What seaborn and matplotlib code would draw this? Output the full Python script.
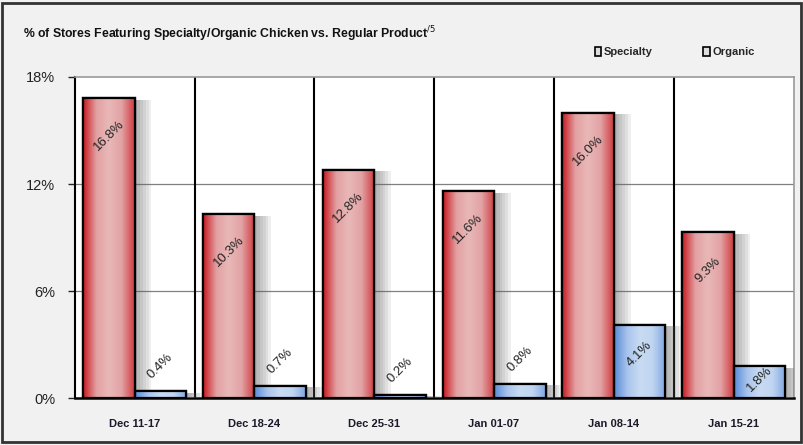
import numpy as np
import pandas as pd
import matplotlib
matplotlib.use("Agg")
import matplotlib.pyplot as plt
import matplotlib.patheffects as pe
from matplotlib.colors import LinearSegmentedColormap
from matplotlib.patches import Rectangle
import seaborn as sns

weeks = ["Dec 11-17", "Dec 18-24", "Dec 25-31", "Jan 01-07", "Jan 08-14", "Jan 15-21"]
specialty = [16.8, 10.3, 12.8, 11.6, 16.0, 9.3]
organic = [0.4, 0.7, 0.2, 0.8, 4.1, 1.8]
series = ["Specialty", "Organic"]
yticks = [0, 6, 12, 18]


def build_frame():
    df = pd.DataFrame({
        "week": weeks * 2,
        "value": specialty + organic,
        "type": [series[0]] * len(weeks) + [series[1]] * len(weeks),
    })
    return df


def fill_gradient(ax, bar, cmap):
    x, y = bar.get_x(), bar.get_y()
    w, h = bar.get_width(), bar.get_height()
    grad = np.linspace(0, 1, 64).reshape(1, -1)
    im = ax.imshow(grad, cmap=cmap, aspect="auto", extent=(x, x + w, y, y + h),
                   zorder=bar.get_zorder() + 0.1, interpolation="bicubic")
    im.set_clip_path(bar)


def main():
    df = build_frame()
    sns.set_style("white")
    plt.rcParams["font.family"] = ["Liberation Sans", "DejaVu Sans"]

    fig = plt.figure(figsize=(8.04, 4.45), dpi=100, facecolor="#f1f1f1")
    ax = fig.add_axes([0.093, 0.105, 0.894, 0.722])
    ax.set_facecolor("white")

    sns.barplot(data=df, x="week", y="value", hue="type", order=weeks,
                hue_order=series, width=0.86, palette=["#d9474b", "#8fb3e4"],
                edgecolor="black", linewidth=1.6, saturation=1, ax=ax, zorder=3)

    red = LinearSegmentedColormap.from_list("red", ["#c71c22", "#e3a0a2", "#e9b8b8", "#e2a2a4", "#cf3c40"])
    blue = LinearSegmentedColormap.from_list("blue", ["#5a8cd8", "#a8c4ec", "#c8dbf3", "#c0d5f0", "#7fa8e2"])

    n = len(weeks)
    bars = ax.patches[:2 * n]
    # soft drop shadow to the right
    shadow = [pe.SimplePatchShadow(offset=(k, -1), shadow_rgbFace="#606060", alpha=0.1)
              for k in range(2, 14, 2)] + [pe.Normal()]
    for i, bar in enumerate(bars):
        bar.set_path_effects(shadow)
        fill_gradient(ax, bar, red if i < n else blue)
        # redraw the outline on top of the gradient
        ax.add_patch(Rectangle((bar.get_x(), bar.get_y()), bar.get_width(), bar.get_height(),
                               fill=False, edgecolor="black", linewidth=1.6, zorder=5))

    for i, bar in enumerate(bars):
        v = bar.get_height()
        cx = bar.get_x() + bar.get_width() / 2
        if i < n:
            ty = v - 2.1
        elif v < 1:
            ty = v + 1.4
        else:
            ty = v * 0.6
        ax.text(cx, ty, f"{v:.1f}%", rotation=45, ha="center", va="center",
                fontsize=9.5, color="#222222", zorder=6)

    ax.set_ylim(0, 18)
    ax.set_xlim(-0.5, n - 0.5)
    ax.set_yticks(yticks)
    ax.set_yticklabels([f"{t}%" for t in yticks], fontsize=10.5, color="#222222")
    ax.tick_params(axis="y", length=5, width=1, direction="out", pad=9, left=True)
    ax.tick_params(axis="x", length=0, pad=15)
    ax.set_xticks(range(n))
    ax.set_xticklabels(weeks, fontsize=8, fontweight="bold", color="#1a1a2a")
    ax.set_xlabel("")
    ax.set_ylabel("")

    for t in yticks[1:3]:
        ax.axhline(t, color="#808080", linewidth=0.9, zorder=1)
    for k in range(1, n):
        ax.axvline(k - 0.5, color="black", linewidth=1.5, zorder=1)

    for side in ["top", "right"]:
        ax.spines[side].set_color("#9a9a9a")
        ax.spines[side].set_linewidth(1.2)
    ax.spines["left"].set_color("black")
    ax.spines["left"].set_linewidth(1.5)
    ax.spines["bottom"].set_color("black")
    ax.spines["bottom"].set_linewidth(1.8)

    handles = [Rectangle((0, 0), 1, 1, facecolor="#dddddd", edgecolor="black", linewidth=1.2)
               for _ in series]
    ax.legend(handles, series, loc="lower right", bbox_to_anchor=(0.96, 1.03), ncol=2,
              frameon=False, handlelength=0.6, handleheight=0.9,
              handletextpad=0.25, columnspacing=4.5, prop={"weight": "bold", "size": 8})

    fig.text(0.028, 0.915, "% of Stores Featuring Specialty/Organic Chicken vs. Regular Product$^{/5}$",
             fontsize=8.8, fontweight="bold", color="#111111")

    fig.add_artist(Rectangle((0.003, 0.006), 0.993, 0.988, transform=fig.transFigure,
                             fill=False, edgecolor="#333333", linewidth=2))

    fig.savefig("out.png", dpi=100, facecolor=fig.get_facecolor())


if __name__ == "__main__":
    main()
